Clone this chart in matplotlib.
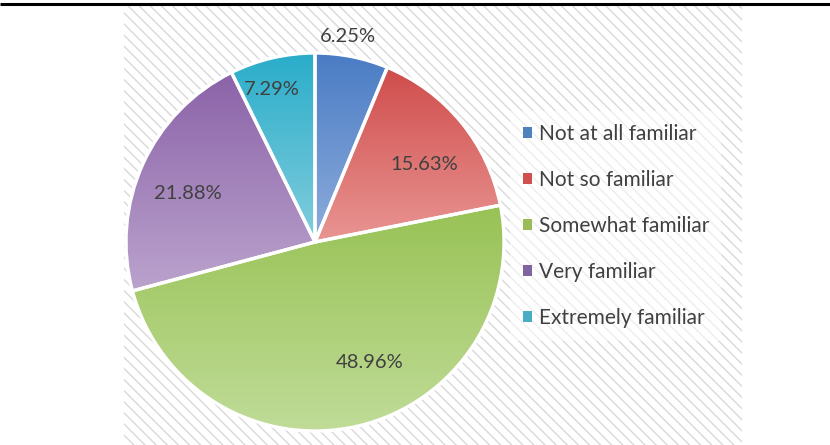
import numpy as np
import matplotlib
matplotlib.use("Agg")
import matplotlib.pyplot as plt
from matplotlib.patches import Rectangle, Patch
from matplotlib.colors import LinearSegmentedColormap

plt.rcParams['font.family'] = ['Lato', 'DejaVu Sans']

categories = ["Not at all familiar", "Not so familiar", "Somewhat familiar",
              "Very familiar", "Extremely familiar"]
shares = [6.25, 15.63, 48.96, 21.88, 7.29]

# gradient colours per slice: (top, bottom)
top_colors = ["#4a7cc4", "#cf4d4b", "#98c255", "#8b63a8", "#2aadca"]
bottom_colors = ["#8eaddc", "#e99593", "#c0dc98", "#bba3cd", "#82cddd"]
legend_colors = ["#4f81bd", "#d0504f", "#9bbb59", "#8064a2", "#4bacc6"]

# label placement tweaks: radius factor and angle shift (deg)
label_r = [1.10, 0.71, 0.70, 0.72, 0.84]
label_shift = [2.0, -4.0, 11.5, 3.4, 2.6]

W, H = 830, 445
fig = plt.figure(figsize=(W / 100, H / 100), dpi=100)

# hatched panel background and top rule
bg = fig.add_axes([0, 0, 1, 1])
bg.set_xlim(0, W)
bg.set_ylim(H, 0)
bg.axis("off")
bg.add_patch(Rectangle((124, 5), 618, 445, facecolor="white",
                       edgecolor="#d9d9d9", hatch="\\\\\\", linewidth=0))
bg.plot([0, W], [3.5, 3.5], color="black", lw=2.2, solid_capstyle="butt")

# pie axes
cx, cy, R, half = 315, 242, 189, 230
ax = fig.add_axes([(cx - half) / W, (H - cy - half) / H, 2 * half / W, 2 * half / H])
ax.set_facecolor("none")
wedges, _ = ax.pie(shares, startangle=90, counterclock=False, radius=1,
                   wedgeprops=dict(edgecolor="white", linewidth=2.4))
for w, c0, c1 in zip(wedges, top_colors, bottom_colors):
    ext = w.get_path().get_extents()
    cmap = LinearSegmentedColormap.from_list("g", [c0, c1])
    grad = np.linspace(0, 1, 256).reshape(-1, 1)
    im = ax.imshow(grad, cmap=cmap, aspect="auto",
                   extent=[ext.x0, ext.x1, ext.y0, ext.y1], origin="upper",
                   zorder=w.get_zorder() - 0.5)
    im.set_clip_path(w)
    w.set_facecolor("none")

lim = half / R
ax.set_xlim(-lim, lim)
ax.set_ylim(-lim, lim)
ax.set_aspect("equal")
ax.axis("off")

total = sum(shares)
start = 90.0
for w, v, rf, sh in zip(wedges, shares, label_r, label_shift):
    mid = start - 360 * v / total / 2 + sh
    start -= 360 * v / total
    a = np.deg2rad(mid)
    ax.text(rf * np.cos(a), rf * np.sin(a), f"{v:.2f}%", ha="center", va="center",
            fontsize=14.5, color="#404040", zorder=10)

handles = [Patch(facecolor=c, edgecolor="none") for c in legend_colors]
leg = fig.legend(handles, categories, loc="upper left",
                 bbox_to_anchor=(500 / W, 1 - 101 / H), frameon=True,
                 fontsize=15, labelcolor="#404040", handlelength=0.45,
                 handleheight=0.45, handletextpad=0.3, labelspacing=1.25,
                 borderpad=0.6, fancybox=False)
leg.get_frame().set_facecolor("white")
leg.get_frame().set_alpha(0.55)
leg.get_frame().set_edgecolor("none")

fig.savefig("out.png", dpi=100)
